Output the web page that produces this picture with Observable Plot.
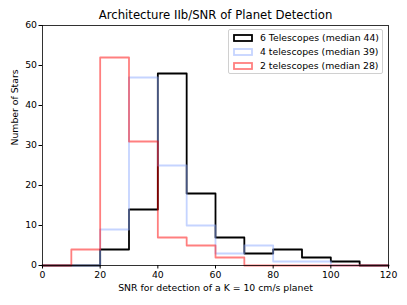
<!DOCTYPE html>
<html>
<head>
<meta charset="utf-8">
<script src="https://cdn.jsdelivr.net/npm/d3@7"></script>
<script src="https://cdn.jsdelivr.net/npm/@observablehq/plot@0.6"></script>
<style>
  html, body { margin: 0; padding: 0; background: #fff; }
  #wrap { position: relative; width: 407px; height: 305px; font-family: "DejaVu Sans", sans-serif; }
  #legend { position: absolute; left: 228px; top: 29px; width: 155px; height: 45px; border: 1px solid #d0d0d0; border-radius: 2px; background: rgba(255,255,255,0.8); padding: 1px 0 0 4px; box-sizing: border-box; font-size: 9.3px; line-height: 14px; }
  #legend .row { display: flex; align-items: center; white-space: nowrap; height: 14px; }
  #legend svg { flex: none; margin-right: 7px; display: block; }
</style>
</head>
<body>
<div id="wrap"></div>
<script>
const binEdges = [0, 10, 20, 30, 40, 50, 60, 70, 80, 90, 100, 110, 120];
const seriesNames = ["6 Telescopes (median 44)", "4 telescopes (median 39)", "2 telescopes (median 28)"];
const counts6 = [0, 0, 4, 14, 48, 18, 7, 3, 4, 2, 1, 0];
const counts4 = [0, 0, 9, 47, 25, 10, 3, 5, 1, 1, 0, 0];
const counts2 = [0, 4, 52, 31, 7, 5, 2, 0, 0, 0, 0, 0];
const xTicks = [0, 20, 40, 60, 80, 100, 120];
const yTicks = [0, 10, 20, 30, 40, 50, 60];
const titleText = "Architecture IIb/SNR of Planet Detection";
const xLabel = "SNR for detection of a K = 10 cm/s planet";
const yLabel = "Number of Stars";

const styles = [
  {stroke: "#000000", opacity: 1},
  {stroke: "rgb(140,170,255)", opacity: 0.5},
  {stroke: "rgb(255,0,0)", opacity: 0.5}
];

function stepPoints(counts, name) {
  const pts = [{x: binEdges[0], y: 0, s: name}];
  counts.forEach((c, i) => pts.push({x: binEdges[i], y: c, s: name}));
  pts.push({x: binEdges[binEdges.length - 1], y: 0, s: name});
  return pts;
}
const allCounts = [counts6, counts4, counts2];

const marks = [];
allCounts.forEach((c, i) => {
  marks.push(Plot.line(stepPoints(c, seriesNames[i]), {
    x: "x", y: "y", curve: "step-after",
    stroke: styles[i].stroke, strokeOpacity: styles[i].opacity, strokeWidth: 1.8
  }));
});

const chart = Plot.plot({
  width: 407, height: 305,
  marginTop: 25, marginLeft: 42, marginRight: 19, marginBottom: 40,
  style: {fontFamily: "DejaVu Sans, sans-serif", fontSize: "9.3px", color: "#000", background: "#fff"},
  x: {domain: [0, 120], ticks: xTicks, label: null},
  y: {domain: [0, 60], ticks: yTicks, label: null},
  marks: [
    ...marks,
    Plot.frame({stroke: "#000", strokeWidth: 0.8}),
    Plot.axisX({ticks: xTicks, tickSize: 3.5, tickPadding: 2, label: null, fontSize: 9.3}),
    Plot.axisY({ticks: yTicks, tickSize: 3.5, tickPadding: 2, label: null, fontSize: 9.3}),
    Plot.text([titleText], {frameAnchor: "top", dy: -10, fontSize: 11.7, text: d => d, lineAnchor: "middle"}),
    Plot.text([xLabel], {frameAnchor: "bottom", dy: 23, fontSize: 9.3, text: d => d, lineAnchor: "middle"}),
    Plot.text([yLabel], {frameAnchor: "left", dx: -27, rotate: -90, fontSize: 9.3, text: d => d, lineAnchor: "middle"})
  ]
});

const wrap = document.getElementById("wrap");
wrap.appendChild(chart);

const legend = document.createElement("div");
legend.id = "legend";
const ns = "http://www.w3.org/2000/svg";
seriesNames.forEach((n, i) => {
  const row = document.createElement("div");
  row.className = "row";
  const sw = document.createElementNS(ns, "svg");
  sw.setAttribute("width", "20");
  sw.setAttribute("height", "8");
  const r = document.createElementNS(ns, "rect");
  r.setAttribute("x", "1");
  r.setAttribute("y", "1");
  r.setAttribute("width", "18");
  r.setAttribute("height", "6");
  r.setAttribute("fill", "none");
  r.setAttribute("stroke", styles[i].stroke);
  r.setAttribute("stroke-opacity", styles[i].opacity);
  r.setAttribute("stroke-width", "1.8");
  sw.appendChild(r);
  const t = document.createElement("span");
  t.textContent = n;
  row.appendChild(sw);
  row.appendChild(t);
  legend.appendChild(row);
});
wrap.appendChild(legend);
</script>
</body>
</html>
